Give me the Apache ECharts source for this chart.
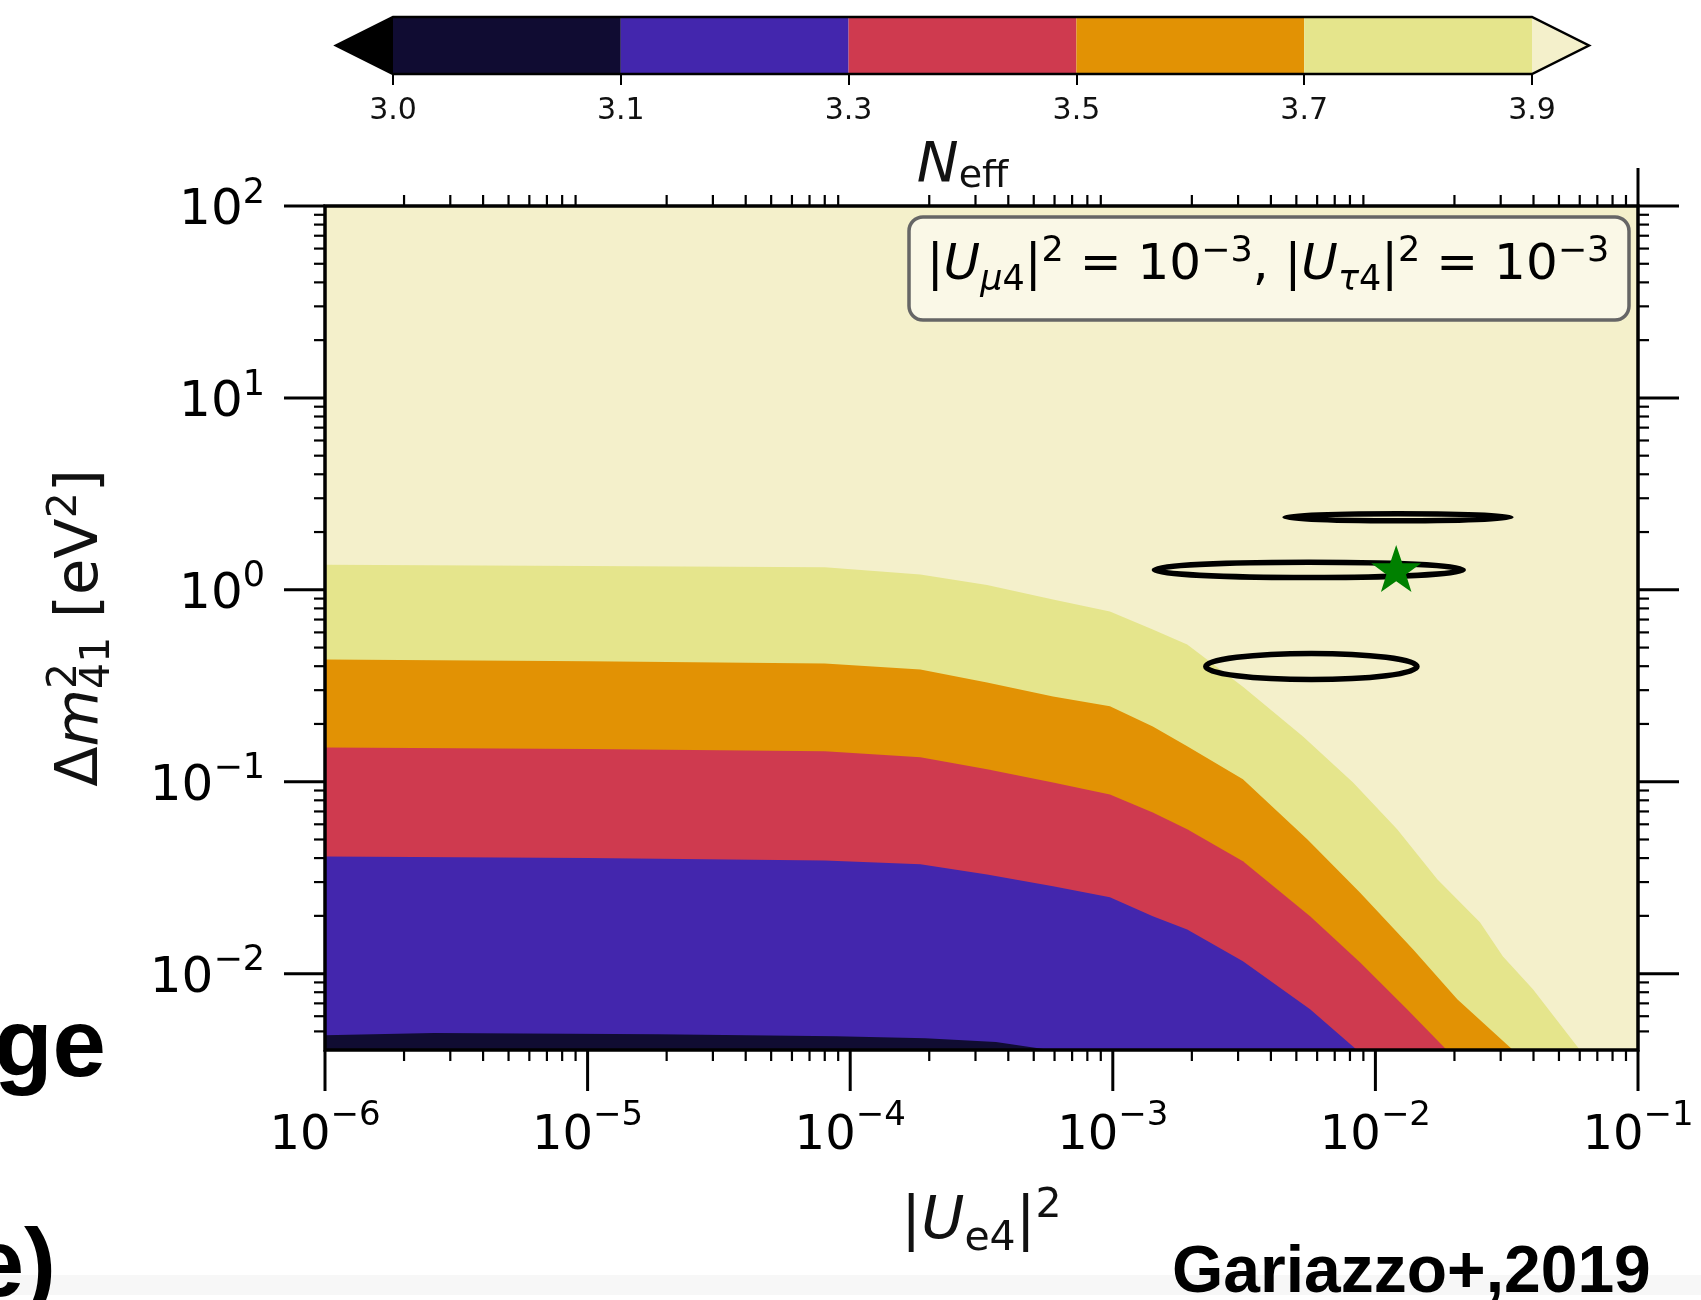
<!DOCTYPE html>
<html><head><meta charset="utf-8">
<script src="https://cdn.jsdelivr.net/npm/echarts@6/dist/echarts.min.js"></script>
<style>html,body{margin:0;padding:0;background:#fff}#c{width:1701px;height:1300px}</style>
</head><body><div id="c"></div>
<script>
// ---------------- data ----------------
const xMin = 1e-6, xMax = 1e-1, yMin = 0.004, yMax = 100;
const xDecades = [1e-6, 1e-5, 1e-4, 1e-3, 1e-2, 1e-1];
const xExponents = ['−6', '−5', '−4', '−3', '−2', '−1'];
const yDecades = [1e-2, 1e-1, 1, 10, 100];
const yExponents = ['−2', '−1', '0', '1', '2'];
const minorMultipliers = [2, 3, 4, 5, 6, 7, 8, 9];

// colour-bar levels (N_eff)
const levelBounds = ['3.0', '3.1', '3.3', '3.5', '3.7', '3.9'];
const levelColors = ['#100c32', '#4326ad', '#cf3a4f', '#e29204', '#e5e58c'];
const underColor = '#000000';
const overColor = '#f4f0cb';

// contour boundaries (|U_e4|^2, Δm^2_41)
const c39x = [1e-6, 1e-5, 8.0e-5, 1.85e-4, 3.32e-4, 5.92e-4, 9.75e-4, 1.42e-3, 1.92e-3, 3.13e-3, 5.30e-3, 8.22e-3, 1.21e-2, 1.72e-2, 2.50e-2, 3.06e-2, 3.98e-2, 6.01e-2];
const c39y = [1.35, 1.33, 1.31, 1.20, 1.06, 0.889, 0.771, 0.621, 0.519, 0.313, 0.172, 0.0991, 0.0565, 0.0310, 0.0185, 0.0123, 0.0083, 0.004];
const c37x = [1e-6, 1e-5, 8.0e-5, 1.85e-4, 3.32e-4, 5.92e-4, 9.75e-4, 1.42e-3, 1.92e-3, 3.13e-3, 5.50e-3, 8.73e-3, 1.39e-2, 2.05e-2, 3.34e-2];
const c37y = [0.433, 0.425, 0.413, 0.384, 0.329, 0.278, 0.247, 0.194, 0.153, 0.103, 0.0501, 0.0265, 0.0134, 0.00736, 0.004];
const c35x = [1e-6, 1e-5, 8.0e-5, 1.85e-4, 3.32e-4, 5.92e-4, 9.75e-4, 1.42e-3, 1.92e-3, 3.13e-3, 5.64e-3, 8.73e-3, 1.32e-2, 1.87e-2];
const c35y = [0.151, 0.148, 0.144, 0.134, 0.116, 0.0991, 0.0859, 0.0692, 0.0565, 0.0385, 0.0199, 0.01146, 0.00653, 0.004];
const c33x = [1e-6, 1e-5, 8.0e-5, 1.85e-4, 3.32e-4, 5.92e-4, 9.75e-4, 1.42e-3, 1.92e-3, 3.13e-3, 5.64e-3, 8.51e-3];
const c33y = [0.0408, 0.0400, 0.0389, 0.0371, 0.0329, 0.0285, 0.0250, 0.0199, 0.0170, 0.0116, 0.00653, 0.004];
const c31x = [1e-6, 2.6e-6, 1.84e-5, 8.83e-5, 1.93e-4, 3.59e-4, 5.77e-4];
const c31y = [0.00478, 0.00490, 0.00483, 0.00472, 0.00461, 0.00440, 0.004];

// allowed-region contours: extents in |U_e4|^2 and Δm^2_41
const ellXLow = [4.53e-3, 1.44e-3, 2.26e-3];
const ellXHigh = [3.28e-2, 2.16e-2, 1.44e-2];
const ellYLow = [2.29, 1.16, 0.341];
const ellYHigh = [2.49, 1.39, 0.466];

// best fit point
const bestFitX = [1.20e-2];
const bestFitY = [1.29];

// ---------------- chart ----------------
const FONT = 'DejaVu Sans';
const INK = '#111';
const chart = echarts.init(document.getElementById('c'), null, {renderer: 'canvas', width: 1701, height: 1300});

const contourLevels = [
  {x: c39x, y: c39y, color: levelColors[4]},
  {x: c37x, y: c37y, color: levelColors[3]},
  {x: c35x, y: c35y, color: levelColors[2]},
  {x: c33x, y: c33y, color: levelColors[1]},
  {x: c31x, y: c31y, color: levelColors[0]}
];

const xTickRich = {
  a: {fontFamily: FONT, fontSize: 48, lineHeight: 62, verticalAlign: 'bottom', color: INK},
  b: {fontFamily: FONT, fontSize: 34, lineHeight: 36, verticalAlign: 'top', color: INK}
};
const yTickRich = {
  a: {fontFamily: FONT, fontSize: 50, lineHeight: 60, verticalAlign: 'bottom', color: INK},
  b: {fontFamily: FONT, fontSize: 35, lineHeight: 36, verticalAlign: 'top', color: INK}
};

function minorValues(lo, hi) {
  const out = [];
  for (let e = Math.floor(Math.log10(lo)); e < Math.ceil(Math.log10(hi)); e++) {
    minorMultipliers.forEach(m => {
      const v = m * Math.pow(10, e);
      if (v > lo * 1.0001 && v < hi * 0.9999) out.push(v);
    });
  }
  return out;
}

function renderFrame(params, api) {
  const tl = api.coord([xMin, yMax]), br = api.coord([xMax, yMin]);
  const L = tl[0], T = tl[1], R = br[0], B = br[1];
  const MAJ = 41, MIN = 11;
  const ch = [];
  const line = (x1, y1, x2, y2, w) => ch.push({type: 'line', shape: {x1, y1, x2, y2}, style: {stroke: '#000', lineWidth: w}});
  xDecades.forEach((v, i) => {
    const p = api.coord([v, yMin])[0];
    line(p, B, p, B + MAJ, 3);
    ch.push({type: 'text', x: p, y: B + 49, style: {text: '{a|10}{b|' + xExponents[i] + '}', rich: xTickRich, align: 'center', verticalAlign: 'top'}});
  });
  minorValues(xMin, xMax).forEach(v => {
    const p = api.coord([v, yMin])[0];
    line(p, B, p, B + MIN, 2.2);
    line(p, T, p, T - MIN, 2.2);
  });
  yDecades.forEach((v, i) => {
    const p = api.coord([xMin, v])[1];
    line(L, p, L - MAJ, p, 3);
    line(R, p, R + MAJ, p, 3);
    ch.push({type: 'text', x: L - 60, y: p, style: {text: '{a|10}{b|' + yExponents[i] + '}', rich: yTickRich, align: 'right', verticalAlign: 'middle'}});
  });
  minorValues(yMin, yMax).forEach(v => {
    const p = api.coord([xMin, v])[1];
    line(L, p, L - MIN, p, 2.2);
    line(R, p, R + MIN, p, 2.2);
  });
  // right spine continues above the frame (top major tick of the last decade)
  line(R, T, R, T - 38, 3);
  ch.push({type: 'rect', shape: {x: L, y: T, width: R - L, height: B - T}, style: {fill: null, stroke: '#000', lineWidth: 3.5}});
  return {type: 'group', children: ch};
}

function renderContours(params, api) {
  const i = params.dataIndex;
  if (i === 0) {
    const a = api.coord([xMin, yMax]), b = api.coord([xMax, yMin]);
    return {type: 'rect', shape: {x: a[0], y: a[1], width: b[0] - a[0], height: b[1] - a[1]}, style: {fill: overColor}};
  }
  const c = contourLevels[i - 1];
  const pts = [api.coord([xMin, yMin])];
  c.x.forEach((x, k) => pts.push(api.coord([x, c.y[k]])));
  return {type: 'polygon', shape: {points: pts}, style: {fill: c.color}};
}

function renderEllipse(params, api) {
  const p1 = api.coord([api.value(0), api.value(2)]);
  const p2 = api.coord([api.value(1), api.value(3)]);
  return {
    type: 'ellipse',
    shape: {cx: (p1[0] + p2[0]) / 2, cy: (p1[1] + p2[1]) / 2, rx: Math.abs(p2[0] - p1[0]) / 2, ry: Math.abs(p2[1] - p1[1]) / 2},
    style: {fill: null, stroke: '#000', lineWidth: 5.5}
  };
}

const EXT = 0.25; // length of the colour-bar end triangles, in bins
function renderColorbar(params, api) {
  const n = levelColors.length;
  const ch = [];
  levelColors.forEach((col, i) => {
    const a = api.coord([i, 1]), b = api.coord([i + 1, 0]);
    ch.push({type: 'rect', shape: {x: a[0], y: a[1], width: b[0] - a[0], height: b[1] - a[1]}, style: {fill: col}});
  });
  ch.push({type: 'polygon', shape: {points: [api.coord([0, 1]), api.coord([-EXT, 0.5]), api.coord([0, 0])]}, style: {fill: underColor}});
  ch.push({type: 'polygon', shape: {points: [api.coord([n, 1]), api.coord([n + EXT, 0.5]), api.coord([n, 0])]}, style: {fill: overColor}});
  ch.push({type: 'polygon', shape: {points: [api.coord([0, 1]), api.coord([n, 1]), api.coord([n + EXT, 0.5]), api.coord([n, 0]), api.coord([0, 0]), api.coord([-EXT, 0.5])]},
    style: {fill: null, stroke: '#000', lineWidth: 2.5}});
  return {type: 'group', children: ch};
}

const titleBase = {fontFamily: FONT, fontSize: 59, lineHeight: 74, verticalAlign: 'middle', color: INK, align: 'left'};
const option = {
  animation: false,
  backgroundColor: '#ffffff',
  grid: [
    {left: 325, top: 206, width: 1313, height: 844, containLabel: false},
    {left: 393, top: 17, width: 1139, height: 57, containLabel: false}
  ],
  xAxis: [
    {
      gridIndex: 0, type: 'log', logBase: 10, min: xMin, max: xMax,
      axisLine: {show: false}, axisTick: {show: false}, axisLabel: {show: false}, splitLine: {show: false},
      name: '{b||}{i|U}{s|e4}{b||}{p|2}', nameLocation: 'middle', nameGap: 136,
      nameTextStyle: {rich: {
        b: Object.assign({}, titleBase),
        i: Object.assign({}, titleBase, {fontStyle: 'italic'}),
        s: {fontFamily: FONT, fontSize: 41, lineHeight: 41, verticalAlign: 'bottom', color: INK, align: 'left'},
        p: {fontFamily: FONT, fontSize: 41, lineHeight: 37, verticalAlign: 'top', color: INK, align: 'left'}
      }}
    },
    {
      gridIndex: 1, type: 'value', min: 0, max: 5, interval: 1,
      axisLine: {show: false}, splitLine: {show: false},
      axisTick: {show: true, length: 11, lineStyle: {color: '#000', width: 2}},
      axisLabel: {formatter: v => levelBounds[Math.round(v)], margin: 22, fontFamily: FONT, fontSize: 30, color: INK},
      name: '{n|N}{s|eff}', nameLocation: 'middle', nameGap: 62,
      nameTextStyle: {rich: {
        n: {fontFamily: FONT, fontStyle: 'italic', fontSize: 56, lineHeight: 60, verticalAlign: 'middle', color: INK, align: 'left'},
        s: {fontFamily: FONT, fontSize: 38, lineHeight: 38, verticalAlign: 'bottom', color: INK, align: 'left'}
      }}
    }
  ],
  yAxis: [
    {
      gridIndex: 0, type: 'log', logBase: 10, min: yMin, max: yMax,
      axisLine: {show: false}, axisTick: {show: false}, axisLabel: {show: false}, splitLine: {show: false},
      name: '{b|Δ}{i|m}{p|2}{s|41}{b| [eV}{q|2}{b|]}', nameLocation: 'middle', nameGap: 206, nameRotate: 90,
      nameTextStyle: {rich: {
        b: Object.assign({}, titleBase),
        i: Object.assign({}, titleBase, {fontStyle: 'italic'}),
        p: {fontFamily: FONT, fontSize: 41, lineHeight: 37, verticalAlign: 'top', width: 0.1, color: INK, align: 'left'},
        q: {fontFamily: FONT, fontSize: 41, lineHeight: 37, verticalAlign: 'top', color: INK, align: 'left'},
        s: {fontFamily: FONT, fontSize: 41, lineHeight: 41, verticalAlign: 'bottom', color: INK, align: 'left'}
      }}
    },
    {gridIndex: 1, type: 'value', min: 0, max: 1, show: false}
  ],
  series: [
    {
      type: 'custom', name: 'N_eff', xAxisIndex: 0, yAxisIndex: 0, z: 1, silent: true,
      data: [[xMin, yMin]].concat(contourLevels.map(c => [c.x[0], c.y[0]])),
      renderItem: renderContours
    },
    {
      type: 'custom', name: 'allowed regions', xAxisIndex: 0, yAxisIndex: 0, z: 5, silent: true,
      data: ellXLow.map((v, i) => [v, ellXHigh[i], ellYLow[i], ellYHigh[i]]),
      encode: {x: [0, 1], y: [2, 3]},
      renderItem: renderEllipse
    },
    {
      type: 'scatter', name: 'best fit', xAxisIndex: 0, yAxisIndex: 0, z: 6, silent: true,
      data: bestFitX.map((v, i) => [v, bestFitY[i]]),
      symbol: 'path://M50,0 L61.8,35.1 L98.1,35.1 L68.8,56.7 L79.4,90.9 L50,70 L20.6,90.9 L31.2,56.7 L1.9,35.1 L38.2,35.1 Z',
      symbolSize: [50, 47], itemStyle: {color: '#008000', opacity: 1}
    },
    {
      type: 'custom', name: 'frame', xAxisIndex: 0, yAxisIndex: 0, z: 10, silent: true, clip: false,
      data: [[xMin, yMin]], renderItem: renderFrame
    },
    {
      type: 'custom', name: 'colorbar', xAxisIndex: 1, yAxisIndex: 1, z: 3, silent: true, clip: false,
      data: [[0, 0]], renderItem: renderColorbar
    }
  ],
  graphic: [
    {type: 'rect', left: 0, top: 1275, shape: {width: 1701, height: 20}, style: {fill: '#f7f7f7'}, z: 0, silent: true},
    {type: 'rect', z: 20, shape: {x: 909, y: 217, width: 720, height: 103, r: 14}, style: {fill: 'rgba(255,255,255,0.55)', stroke: '#666', lineWidth: 3.5}},
    {type: 'text', z: 21, x: 1268, y: 266, style: {
      text: '{b||}{i|U}{si|μ}{s|4}{b||}{p|2}{b| = 10}{p|−3}{b|, |}{i|U}{si|τ}{s|4}{b||}{p|2}{b| = 10}{p|−3}',
      align: 'center', verticalAlign: 'middle',
      rich: {
        b: {fontFamily: FONT, fontSize: 50, lineHeight: 64, verticalAlign: 'middle', color: INK},
        i: {fontFamily: FONT, fontStyle: 'italic', fontSize: 50, lineHeight: 64, verticalAlign: 'middle', color: INK},
        s: {fontFamily: FONT, fontSize: 35, lineHeight: 36, verticalAlign: 'bottom', color: INK},
        si: {fontFamily: FONT, fontStyle: 'italic', fontSize: 35, lineHeight: 36, verticalAlign: 'bottom', color: INK},
        p: {fontFamily: FONT, fontSize: 35, lineHeight: 32, verticalAlign: 'top', color: INK}
      }
    }},
    {type: 'text', x: 106, y: 1050, style: {text: 'ge', align: 'right', verticalAlign: 'middle', font: 'bold 96px "Liberation Sans", Arial, sans-serif', fill: '#000'}, z: 5},
    {type: 'text', x: 56, y: 1270, style: {text: 'e)', align: 'right', verticalAlign: 'middle', font: 'bold 96px "Liberation Sans", Arial, sans-serif', fill: '#000'}, z: 5},
    {type: 'text', x: 1172, y: 1274, style: {text: 'Gariazzo+,2019', align: 'left', verticalAlign: 'middle', font: 'bold 66px "Liberation Sans", Arial, sans-serif', fill: '#000'}, z: 5}
  ]
};
chart.setOption(option);
</script>
</body></html>
